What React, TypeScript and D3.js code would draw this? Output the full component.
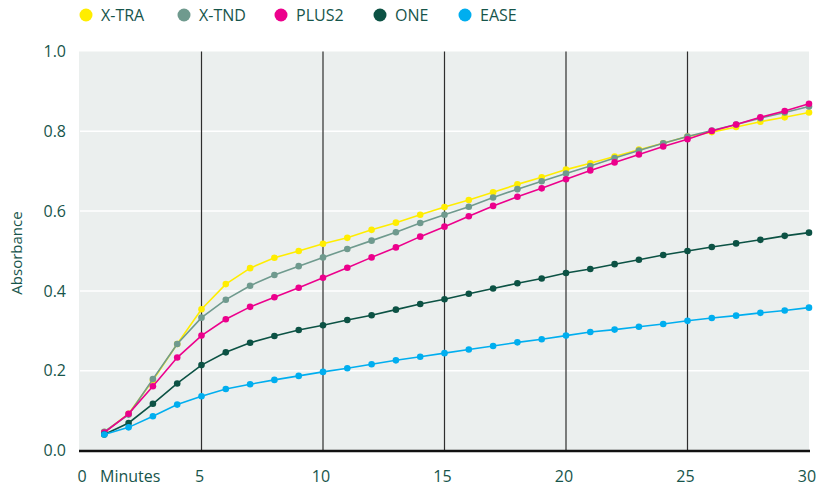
import React from "react";
import * as d3 from "d3";

const minutes = d3.range(1, 31);
const seriesNames = ["X-TRA", "X-TND", "PLUS2", "ONE", "EASE"];
const seriesColors = ["#ffed00", "#6f9a8e", "#ec008c", "#0c5244", "#00aeef"];

const xtra = [0.046, 0.092, 0.176, 0.267, 0.354, 0.417, 0.457, 0.483, 0.500, 0.518, 0.533, 0.553, 0.571, 0.591, 0.610, 0.628, 0.647, 0.667, 0.685, 0.704, 0.720, 0.737, 0.754, 0.770, 0.787, 0.798, 0.811, 0.824, 0.835, 0.847];
const xtnd = [0.047, 0.090, 0.179, 0.267, 0.333, 0.378, 0.413, 0.440, 0.462, 0.484, 0.505, 0.526, 0.547, 0.570, 0.591, 0.611, 0.634, 0.655, 0.675, 0.694, 0.713, 0.733, 0.752, 0.770, 0.787, 0.802, 0.817, 0.833, 0.847, 0.862];
const plus2 = [0.045, 0.092, 0.161, 0.233, 0.288, 0.329, 0.360, 0.384, 0.408, 0.433, 0.458, 0.484, 0.509, 0.536, 0.561, 0.587, 0.613, 0.636, 0.657, 0.680, 0.702, 0.722, 0.742, 0.762, 0.780, 0.801, 0.817, 0.835, 0.851, 0.869];
const one = [0.040, 0.069, 0.117, 0.168, 0.214, 0.246, 0.270, 0.287, 0.302, 0.314, 0.327, 0.339, 0.353, 0.367, 0.379, 0.393, 0.406, 0.419, 0.431, 0.445, 0.455, 0.467, 0.478, 0.490, 0.500, 0.510, 0.519, 0.528, 0.538, 0.546];
const ease = [0.040, 0.058, 0.086, 0.115, 0.136, 0.154, 0.166, 0.177, 0.187, 0.197, 0.206, 0.216, 0.226, 0.235, 0.244, 0.253, 0.262, 0.271, 0.279, 0.288, 0.297, 0.303, 0.310, 0.317, 0.325, 0.332, 0.338, 0.345, 0.351, 0.358];
const seriesValues = [xtra, xtnd, plus2, one, ease];

const yTicks = [0, 0.2, 0.4, 0.6, 0.8, 1.0];
const xTicks = [0, 5, 10, 15, 20, 25, 30];
const vLines = [5, 10, 15, 20, 25];

const W = 818, H = 487;
const TEXT = "#17554b";
const FONT = "'Open Sans', sans-serif";

export default function App() {
  const x = d3.scaleLinear().domain([0, 30]).range([80, 809]);
  const y = d3.scaleLinear().domain([0, 1]).range([450.5, 51.5]);
  const line = d3.line<number>().x((_, i) => x(minutes[i])).y((d) => y(d));
  const legendX = [86, 184, 281, 380, 465];

  return (
    <svg width={W} height={H} style={{ position: "absolute", left: 0, top: 0, fontFamily: FONT }}>
      <rect x={x(0) - 1} y={y(1)} width={x(30) - x(0) + 1} height={y(0) - y(1)} fill="#ebefee" />
      {yTicks.filter((t) => t > 0 && t < 1).map((t) => (
        <line key={t} x1={x(0)} x2={x(30)} y1={y(t)} y2={y(t)} stroke="#ffffff" strokeWidth={1.5} />
      ))}
      {vLines.map((v) => (
        <line key={v} x1={x(v)} x2={x(v)} y1={y(1)} y2={y(0)} stroke="#2e2e2e" strokeWidth={1.2} />
      ))}
      <line x1={x(0) - 1} x2={x(30) + 1} y1={y(0) + 0.5} y2={y(0) + 0.5} stroke="#111" strokeWidth={2.5} />
      {seriesValues.map((vals, si) => (
        <g key={si}>
          <path d={line(vals) || ""} fill="none" stroke={seriesColors[si]} strokeWidth={1.6} />
          {vals.map((v, i) => (
            <circle key={i} cx={x(minutes[i])} cy={y(v)} r={3.3} fill={seriesColors[si]} />
          ))}
        </g>
      ))}
      {yTicks.map((t) => (
        <text key={t} x={66} y={y(t)} dy="0.35em" textAnchor="end" fontSize={16} fill={TEXT}>
          {t.toFixed(1)}
        </text>
      ))}
      {xTicks.map((t) => (
        <text key={t} x={t === 0 ? 82 : x(t) - 2} y={482} textAnchor="middle" fontSize={16} fill={TEXT}>
          {t}
        </text>
      ))}
      <text x={100} y={482} fontSize={16} fill={TEXT}>Minutes</text>
      <text transform={`translate(22,253) rotate(-90)`} textAnchor="middle" fontSize={15} fill={TEXT}>
        Absorbance
      </text>
      {seriesNames.map((n, i) => (
        <g key={n}>
          <circle cx={legendX[i]} cy={15} r={6.5} fill={seriesColors[i]} />
          <text x={legendX[i] + 15} y={15} dy="0.35em" fontSize={16} fill={TEXT}>{n}</text>
        </g>
      ))}
    </svg>
  );
}
